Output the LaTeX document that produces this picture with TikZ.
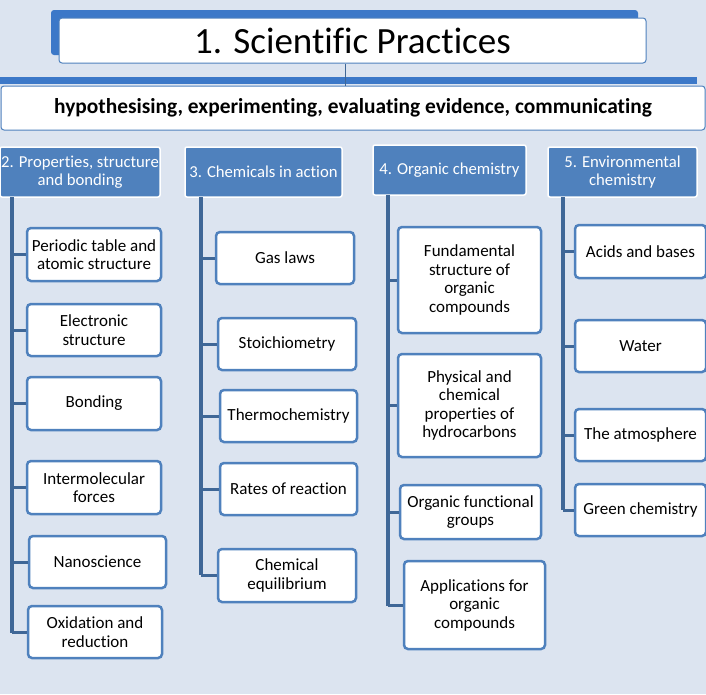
\documentclass[tikz,border=0pt]{standalone}
\usepackage{fontspec}
\setmainfont[Ligatures={NoCommon}]{Carlito}
\begin{document}
\begin{tikzpicture}[x=1pt,y=-1pt,
  cat/.style={draw=white,line width=1.5pt,fill=catblue,rounded corners=2pt,text=white,font=\fontsize{16.7}{18}\selectfont,align=center,inner sep=0pt},
  leaf/.style={draw=catblue,line width=2.5pt,fill=white,rounded corners=4pt,font=\fontsize{17}{18.5}\selectfont,align=center,inner sep=0pt},
  trunk/.style={draw=linkblue,line width=4pt},
  twig/.style={draw=linkblue,line width=3pt}]
\definecolor{bg}{HTML}{DCE4F0}
\definecolor{catblue}{HTML}{4F81BD}
\definecolor{linkblue}{HTML}{3F6797}
\definecolor{barblue}{HTML}{3C78C8}
\fill[bg] (0,0) rectangle (706,694);
\useasboundingbox (0,0) rectangle (706,694);
% title
\fill[barblue,rounded corners=3pt] (51,10) rectangle (638,55);
\node[draw=catblue,line width=1pt,fill=white,rounded corners=3pt,minimum width=587pt,minimum height=45pt,inner sep=0pt,font=\fontsize{37}{39}\selectfont] (title) at (352.5,40.5) {1. Scientific Practices};
\fill[barblue] (0,77) rectangle (697,84);
\node[draw=catblue,line width=1pt,fill=white,rounded corners=3pt,minimum width=704pt,minimum height=44pt,inner sep=0pt,font=\bfseries\fontsize{21.4}{23}\selectfont] (sub) at (353,108) {hypothesising, experimenting, evaluating evidence, communicating};
\draw[linkblue,line width=0.8pt] (title.south -| 345,0) -- (sub.north -| 345,0);
% categories
\node[cat,minimum width=160pt,minimum height=50pt] (c2) at (80,172) {2. Properties, structure\\and bonding};
\node[cat,minimum width=157pt,minimum height=50pt] (c3) at (263.5,172) {3. Chemicals in action};
\node[cat,minimum width=153pt,minimum height=50pt] (c4) at (449.5,170) {4. Organic chemistry};
\node[cat,minimum width=149pt,minimum height=50pt] (c5) at (622.5,172) {5. Environmental\\chemistry};
\coordinate (e2) at (12,633);
\coordinate (e3) at (201,575);
\coordinate (e4) at (388,606);
\coordinate (e5) at (563,510);
\draw[trunk] (12,197) -- (e2);
\draw[trunk] (201,197) -- (e3);
\draw[trunk] (388,195) -- (e4);
\draw[trunk] (563,197) -- (e5);
% leaves
\newcommand{\leafnode}[7]{%
  \node[leaf,minimum width=#4pt,minimum height=#5pt] (#1) at (#2,#3) {#7};
  \draw[twig] (#6,#3) -- (#1.west);}
\leafnode{a1}{94}{254.5}{134}{53}{12}{Periodic table and\\atomic structure}
\leafnode{a2}{94}{330}{134}{52}{12}{Electronic\\structure}
\leafnode{a3}{94}{403.5}{134}{53}{12}{Bonding}
\leafnode{a4}{94}{487.5}{134}{53}{12}{Intermolecular\\forces}
\leafnode{a5}{97.5}{562}{137}{52}{12}{Nanoscience}
\leafnode{a6}{95}{632}{134}{52}{12}{Oxidation and\\reduction}
\leafnode{b1}{285}{258}{138}{52}{201}{Gas laws}
\leafnode{b2}{287}{344}{138}{52}{201}{Stoichiometry}
\leafnode{b3}{288.5}{416}{137}{52}{201}{Thermochemistry}
\leafnode{b4}{288.5}{489}{137}{52}{201}{Rates of reaction}
\leafnode{b5}{287}{575.5}{138}{53}{201}{Chemical\\equilibrium}
\leafnode{d1}{469.5}{280}{143}{106}{388}{Fundamental\\structure of\\organic\\compounds}
\leafnode{d2}{469.5}{405.5}{143}{103}{388}{Physical and\\chemical\\properties of\\hydrocarbons}
\leafnode{d3}{470.5}{512}{141}{54}{388}{Organic functional\\groups}
\leafnode{d4}{474.5}{605}{141}{88}{388}{Applications for\\organic\\compounds}
\leafnode{f1}{640.5}{251.5}{131}{53}{563}{Acids and bases}
\leafnode{f2}{640.5}{346}{131}{52}{563}{Water}
\leafnode{f3}{640.5}{435}{131}{52}{563}{The atmosphere}
\leafnode{f4}{640.5}{510}{131}{52}{563}{Green chemistry}
\end{tikzpicture}
\end{document}
